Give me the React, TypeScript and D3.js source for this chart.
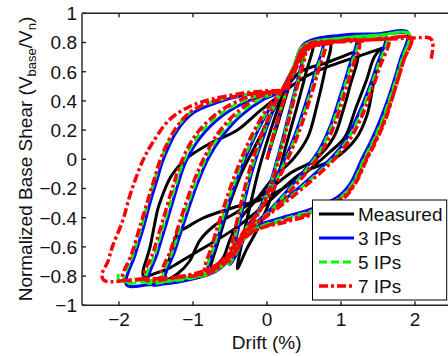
import React from "react";
import * as d3 from "d3";

type P = [number, number];

const xTicks = [-2, -1, 0, 1, 2];
const yTicks = [-1, -0.8, -0.6, -0.4, -0.2, 0, 0.2, 0.4, 0.6, 0.8, 1];
const seriesNames = ["Measured", "3 IPs", "5 IPs", "7 IPs"];

const measured: P[] = [
  [0, 0], [0.15, 0.25], [0.3, 0.5], [0.45, 0.72], [0.55, 0.78], [0.62, 0.79],
  [0.52, 0.58], [0.4, 0.35], [0.25, 0.08], [0.1, -0.2], [-0.1, -0.45], [-0.28, -0.62], [-0.4, -0.75],
  [-0.33, -0.55], [-0.22, -0.3], [-0.1, -0.05], [0.05, 0.2], [0.2, 0.42], [0.35, 0.6], [0.5, 0.74], [0.6, 0.78], [0.85, 0.8],
  [0.78, 0.6], [0.68, 0.38], [0.55, 0.15], [0.35, 0.0], [0.1, -0.12], [-0.15, -0.28], [-0.35, -0.4], [-0.5, -0.55], [-0.6, -0.68], [-0.75, -0.74],
  [-0.65, -0.55], [-0.5, -0.3], [-0.35, -0.1], [-0.15, 0.1], [0.05, 0.3], [0.25, 0.48], [0.45, 0.6], [0.8, 0.66], [1.0, 0.7], [1.22, 0.73],
  [1.12, 0.5], [1.02, 0.32], [0.9, 0.15], [0.65, 0.0], [0.3, -0.1], [0, -0.22], [-0.4, -0.36], [-0.7, -0.45], [-0.9, -0.55], [-1.05, -0.7], [-1.2, -0.78], [-1.37, -0.82],
  [-1.3, -0.65], [-1.2, -0.5], [-1.1, -0.47], [-0.85, -0.4], [-0.45, -0.33], [0, -0.26], [0.45, -0.12], [0.85, 0.05], [1.05, 0.15], [1.2, 0.35], [1.35, 0.55], [1.45, 0.7], [1.55, 0.76],
  [1.45, 0.55], [1.35, 0.3], [1.2, 0.14], [0.9, 0.0], [0.45, -0.1], [0, -0.3], [-0.45, -0.48], [-0.9, -0.62], [-1.1, -0.68], [-1.3, -0.74], [-1.5, -0.78], [-1.67, -0.8],
  [-1.58, -0.6], [-1.48, -0.35], [-1.45, -0.3], [-1.3, -0.12], [-1.1, 0.0], [-0.8, 0.1], [-0.4, 0.2], [-0.1, 0.33], [0.2, 0.45], [0.5, 0.56], [0.8, 0.63], [1.2, 0.7], [1.55, 0.76]
];

const ip3: P[] = [
  [0, 0], [0.15, 0.28], [0.3, 0.52], [0.42, 0.68], [0.5, 0.74],
  [0.42, 0.56], [0.3, 0.32], [0.18, 0.08], [0.05, -0.15], [-0.1, -0.34], [-0.25, -0.48], [-0.38, -0.62], [-0.5, -0.72],
  [-0.42, -0.55], [-0.32, -0.32], [-0.2, -0.08], [-0.05, 0.15], [0.08, 0.33], [0.2, 0.47], [0.35, 0.62], [0.5, 0.75], [0.75, 0.8],
  [0.65, 0.6], [0.52, 0.38], [0.38, 0.17], [0.22, -0.02], [0.05, -0.2], [-0.12, -0.35], [-0.28, -0.47], [-0.45, -0.62], [-0.6, -0.72], [-0.8, -0.77],
  [-0.7, -0.6], [-0.58, -0.4], [-0.45, -0.2], [-0.3, 0.0], [-0.12, 0.2], [0.05, 0.36], [0.2, 0.47], [0.35, 0.62], [0.5, 0.76], [0.8, 0.81], [1.2, 0.83],
  [1.1, 0.62], [0.98, 0.42], [0.85, 0.22], [0.7, 0.06], [0.5, -0.08], [0.28, -0.21], [0.05, -0.34], [-0.12, -0.42], [-0.28, -0.5], [-0.45, -0.64], [-0.7, -0.75], [-1.0, -0.8], [-1.37, -0.83],
  [-1.24, -0.62], [-1.1, -0.4], [-0.95, -0.18], [-0.8, 0.0], [-0.6, 0.16], [-0.35, 0.3], [-0.05, 0.41], [0.2, 0.47], [0.35, 0.62], [0.5, 0.77], [0.9, 0.82], [1.3, 0.84], [1.6, 0.85],
  [1.48, 0.64], [1.35, 0.45], [1.2, 0.27], [1.05, 0.12], [0.85, 0.0], [0.6, -0.12], [0.3, -0.25], [0.0, -0.37], [-0.15, -0.44], [-0.3, -0.5], [-0.45, -0.64], [-0.7, -0.76], [-1.1, -0.82], [-1.6, -0.85],
  [-1.48, -0.64], [-1.36, -0.44], [-1.22, -0.2], [-1.1, -0.02], [-0.9, 0.15], [-0.6, 0.3], [-0.25, 0.4], [0.05, 0.45], [0.2, 0.47], [0.35, 0.62], [0.5, 0.78], [1.0, 0.84], [1.5, 0.86], [1.9, 0.87],
  [1.8, 0.68], [1.68, 0.48], [1.53, 0.27], [1.4, 0.12], [1.28, 0.0], [1.12, -0.17], [0.95, -0.26], [0.6, -0.34], [0.2, -0.4], [-0.1, -0.45], [-0.3, -0.52], [-0.45, -0.65], [-0.7, -0.77], [-1.2, -0.84], [-1.6, -0.86], [-1.9, -0.86],
  [-1.78, -0.65], [-1.66, -0.45], [-1.57, -0.28], [-1.48, -0.13], [-1.4, 0.0], [-1.21, 0.2], [-0.99, 0.32], [-0.67, 0.39], [-0.3, 0.44], [0.0, 0.46], [0.2, 0.47], [0.35, 0.62], [0.5, 0.79], [1.0, 0.85], [1.5, 0.86], [1.88, 0.87]
];

const ip5: P[] = [
  [0, 0], [0.15, 0.28], [0.3, 0.52], [0.42, 0.67], [0.51, 0.74],
  [0.43, 0.56], [0.31, 0.32], [0.19, 0.08], [0.06, -0.15], [-0.1, -0.35], [-0.26, -0.48], [-0.39, -0.62], [-0.52, -0.72],
  [-0.44, -0.55], [-0.34, -0.32], [-0.22, -0.08], [-0.07, 0.15], [0.07, 0.33], [0.2, 0.47], [0.35, 0.62], [0.5, 0.75], [0.76, 0.8],
  [0.67, 0.6], [0.54, 0.38], [0.4, 0.17], [0.24, -0.02], [0.07, -0.2], [-0.11, -0.35], [-0.28, -0.47], [-0.46, -0.62], [-0.62, -0.72], [-0.82, -0.77],
  [-0.72, -0.6], [-0.6, -0.4], [-0.47, -0.2], [-0.32, 0.0], [-0.14, 0.2], [0.04, 0.36], [0.2, 0.47], [0.35, 0.62], [0.5, 0.76], [0.8, 0.8], [1.22, 0.82],
  [1.12, 0.62], [1.0, 0.42], [0.87, 0.22], [0.72, 0.06], [0.52, -0.08], [0.3, -0.21], [0.07, -0.34], [-0.11, -0.42], [-0.28, -0.5], [-0.46, -0.64], [-0.72, -0.75], [-1.02, -0.8], [-1.4, -0.82],
  [-1.27, -0.62], [-1.13, -0.4], [-0.98, -0.18], [-0.83, 0.0], [-0.63, 0.17], [-0.38, 0.31], [-0.07, 0.42], [0.2, 0.47], [0.35, 0.62], [0.5, 0.77], [0.9, 0.81], [1.3, 0.83], [1.62, 0.84],
  [1.5, 0.64], [1.37, 0.45], [1.23, 0.27], [1.07, 0.12], [0.88, 0.0], [0.63, -0.12], [0.33, -0.25], [0.02, -0.37], [-0.14, -0.44], [-0.3, -0.5], [-0.46, -0.64], [-0.72, -0.76], [-1.12, -0.81], [-1.63, -0.84],
  [-1.51, -0.64], [-1.39, -0.44], [-1.25, -0.2], [-1.13, -0.02], [-0.93, 0.16], [-0.63, 0.31], [-0.27, 0.41], [0.04, 0.46], [0.2, 0.47], [0.35, 0.62], [0.5, 0.78], [1.0, 0.83], [1.5, 0.85], [1.92, 0.86],
  [1.82, 0.68], [1.7, 0.48], [1.56, 0.27], [1.43, 0.12], [1.31, 0.0], [1.15, -0.17], [0.97, -0.27], [0.62, -0.35], [0.22, -0.41], [-0.09, -0.46], [-0.29, -0.52], [-0.45, -0.65], [-0.72, -0.77], [-1.22, -0.83], [-1.65, -0.84], [-1.93, -0.84],
  [-1.81, -0.65], [-1.69, -0.45], [-1.6, -0.28], [-1.51, -0.13], [-1.43, 0.0], [-1.24, 0.2], [-1.01, 0.33], [-0.69, 0.4], [-0.31, 0.44], [0.0, 0.46], [0.2, 0.47], [0.35, 0.62], [0.5, 0.78], [1.0, 0.83], [1.5, 0.85], [1.92, 0.86],
  [1.83, 0.68], [1.71, 0.48], [1.57, 0.27], [1.44, 0.12], [1.32, 0.0], [1.16, -0.17], [0.98, -0.27], [0.63, -0.36], [0.23, -0.42], [-0.08, -0.46], [-0.28, -0.53], [-0.45, -0.65], [-0.72, -0.77], [-1.22, -0.82], [-1.7, -0.83], [-2.0, -0.83],
  [-2.0, -0.76]
];

const ip7: P[] = [
  [0, 0], [0.15, 0.28], [0.3, 0.51], [0.43, 0.66], [0.52, 0.73],
  [0.44, 0.56], [0.32, 0.32], [0.2, 0.08], [0.07, -0.15], [-0.09, -0.35], [-0.26, -0.48], [-0.4, -0.61], [-0.53, -0.71],
  [-0.46, -0.55], [-0.36, -0.32], [-0.24, -0.08], [-0.09, 0.15], [0.06, 0.33], [0.2, 0.47], [0.36, 0.62], [0.52, 0.74], [0.78, 0.79],
  [0.69, 0.6], [0.56, 0.38], [0.42, 0.17], [0.26, -0.02], [0.09, -0.2], [-0.1, -0.35], [-0.28, -0.47], [-0.47, -0.61], [-0.64, -0.71], [-0.84, -0.76],
  [-0.75, -0.6], [-0.63, -0.4], [-0.5, -0.2], [-0.35, 0.0], [-0.17, 0.2], [0.02, 0.36], [0.2, 0.47], [0.36, 0.62], [0.52, 0.75], [0.8, 0.79], [1.24, 0.81],
  [1.15, 0.62], [1.03, 0.42], [0.9, 0.22], [0.75, 0.06], [0.55, -0.08], [0.33, -0.21], [0.1, -0.34], [-0.1, -0.42], [-0.28, -0.5], [-0.47, -0.63], [-0.74, -0.74], [-1.04, -0.79], [-1.43, -0.81],
  [-1.3, -0.62], [-1.16, -0.4], [-1.01, -0.18], [-0.86, 0.0], [-0.66, 0.18], [-0.41, 0.32], [-0.1, 0.43], [0.2, 0.47], [0.36, 0.62], [0.52, 0.76], [0.9, 0.8], [1.3, 0.81], [1.64, 0.82],
  [1.53, 0.64], [1.4, 0.45], [1.26, 0.27], [1.1, 0.12], [0.91, 0.0], [0.66, -0.12], [0.36, -0.25], [0.05, -0.37], [-0.13, -0.44], [-0.3, -0.5], [-0.47, -0.63], [-0.74, -0.75], [-1.14, -0.8], [-1.66, -0.82],
  [-1.54, -0.64], [-1.42, -0.44], [-1.28, -0.2], [-1.16, -0.02], [-0.96, 0.17], [-0.66, 0.32], [-0.3, 0.42], [0.03, 0.46], [0.2, 0.47], [0.36, 0.62], [0.52, 0.77], [1.0, 0.81], [1.5, 0.82], [1.95, 0.83],
  [1.85, 0.68], [1.73, 0.48], [1.59, 0.27], [1.46, 0.12], [1.34, 0.0], [1.18, -0.17], [1.0, -0.27], [0.65, -0.36], [0.24, -0.42], [-0.08, -0.47], [-0.28, -0.52], [-0.45, -0.64], [-0.74, -0.76], [-1.24, -0.81], [-1.66, -0.82], [-1.95, -0.82],
  [-1.83, -0.65], [-1.71, -0.45], [-1.61, -0.28], [-1.52, -0.13], [-1.44, 0.0], [-1.25, 0.2], [-1.02, 0.33], [-0.7, 0.4], [-0.32, 0.44], [0.0, 0.46], [0.2, 0.47], [0.36, 0.62], [0.52, 0.78], [1.0, 0.81], [1.5, 0.82], [1.95, 0.83],
  [1.85, 0.68], [1.73, 0.48], [1.6, 0.27], [1.47, 0.12], [1.35, 0.0], [1.19, -0.17], [1.01, -0.28], [0.66, -0.37], [0.25, -0.43], [-0.07, -0.47], [-0.28, -0.53], [-0.45, -0.65], [-0.74, -0.77], [-1.24, -0.81], [-1.7, -0.82], [-2.2, -0.83], [-2.23, -0.79],
  [-2.15, -0.7], [-2.09, -0.6], [-1.95, -0.42], [-1.86, -0.26], [-1.78, -0.14], [-1.67, 0.0], [-1.55, 0.11], [-1.32, 0.27], [-1.05, 0.36], [-0.76, 0.41], [-0.36, 0.45], [0.0, 0.47], [0.2, 0.48], [0.36, 0.62], [0.52, 0.77], [1.0, 0.81], [1.5, 0.82], [1.95, 0.83], [2.2, 0.83], [2.24, 0.8], [2.22, 0.69]
];

const seriesData: P[][] = [measured, ip3, ip5, ip7];
const seriesColors = ["#000000", "#0000ff", "#00ff00", "#ff0000"];
const seriesDash = [undefined, undefined, "8,4", "9,3,3,3"];
const seriesWidth = [3, 3, 3, 3.5];

const W = 448;
const H = 356;
const L = 82;
const R = 452;
const T = 13.3;
const B = 305.3;
const FONT = "Arial, 'Liberation Sans', Helvetica, sans-serif";

export default function App() {
  const x = d3.scaleLinear().domain([-2.5, 2.5]).range([L, R]);
  const y = d3.scaleLinear().domain([-1, 1]).range([B, T]);
  const line = d3
    .line<P>()
    .x((d) => x(d[0]))
    .y((d) => y(d[1]))
    .curve(d3.curveCatmullRom.alpha(0.5));

  const fmt = (v: number) => (Math.abs(v) < 1e-9 ? "0" : d3.format("~g")(+v.toFixed(1)));
  const tl = 4;
  const legendY = [214, 238, 262, 286];

  return (
    <svg
      width={W}
      height={H}
      style={{ position: "absolute", left: 0, top: 0, background: "#fff" }}
      fontFamily={FONT}
    >
      <defs>
        <clipPath id="plotclip">
          <rect x={L} y={T} width={R - L} height={B - T} />
        </clipPath>
      </defs>
      <rect x={0} y={0} width={W} height={H} fill="#fff" />
      <g clipPath="url(#plotclip)">
        {seriesData.map((d, i) => (
          <path
            key={i}
            d={line(d) || ""}
            fill="none"
            stroke={seriesColors[i]}
            strokeWidth={seriesWidth[i]}
            strokeDasharray={seriesDash[i]}
            strokeLinejoin="round"
          />
        ))}
      </g>
      {/* axes */}
      <g stroke="#222" strokeWidth={1.4} fill="none">
        <line x1={L} x2={W} y1={T} y2={T} />
        <line x1={L} x2={W} y1={B} y2={B} />
        <line x1={L} x2={L} y1={T} y2={B} />
        {xTicks.map((t) => (
          <g key={"xt" + t}>
            <line x1={x(t)} x2={x(t)} y1={B} y2={B - tl} />
            <line x1={x(t)} x2={x(t)} y1={T} y2={T + tl} />
          </g>
        ))}
        {yTicks.map((t) => (
          <line key={"yt" + t} x1={L} x2={L + tl} y1={y(t)} y2={y(t)} />
        ))}
      </g>
      <g fontSize={19} fill="#111">
        {xTicks.map((t) => (
          <text key={"xl" + t} x={x(t)} y={326} textAnchor="middle">
            {fmt(t)}
          </text>
        ))}
        {yTicks.map((t) => (
          <text key={"yl" + t} x={77} y={y(t)} dy="0.36em" textAnchor="end">
            {fmt(t)}
          </text>
        ))}
        <text x={266.7} y={349} textAnchor="middle">
          Drift (%)
        </text>
        <text transform={`translate(32,159) rotate(-90)`} textAnchor="middle">
          Normalized Base Shear (V
          <tspan fontSize={13} dy={4}>base</tspan>
          <tspan dy={-4}>/V</tspan>
          <tspan fontSize={13} dy={4}>n</tspan>
          <tspan dy={-4}>)</tspan>
        </text>
      </g>
      {/* legend */}
      <g>
        <rect x={312.5} y={200} width={134.2} height={100} fill="#fff" stroke="#000" strokeWidth={1} />
        {seriesNames.map((n, i) => (
          <g key={n}>
            <line
              x1={319}
              x2={354}
              y1={legendY[i]}
              y2={legendY[i]}
              stroke={seriesColors[i]}
              strokeWidth={seriesWidth[i]}
              strokeDasharray={seriesDash[i]}
            />
            <text x={358} y={legendY[i]} dy="0.36em" fontSize={19} fill="#111">
              {n}
            </text>
          </g>
        ))}
      </g>
    </svg>
  );
}
